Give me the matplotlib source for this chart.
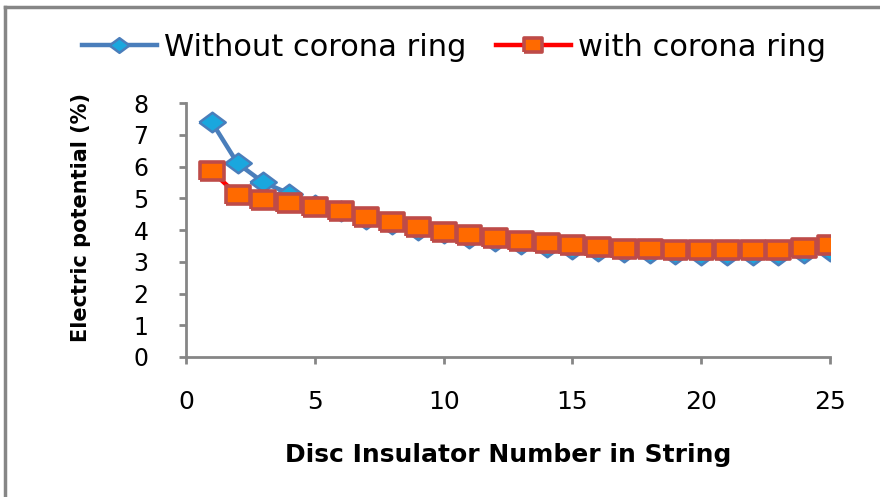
#!/usr/bin/env python3
"""Electric potential distribution along a disc insulator string."""

import numpy as np
import matplotlib.pyplot as plt
from matplotlib.lines import Line2D

disc_number = list(range(1, 26))
without_ring = [7.40, 6.10, 5.50, 5.15, 4.80, 4.60, 4.35, 4.20, 4.00, 3.90,
                3.75, 3.65, 3.55, 3.45, 3.40, 3.35, 3.30, 3.28, 3.25, 3.22,
                3.22, 3.20, 3.22, 3.28, 3.35]
with_ring = [5.85, 5.10, 4.95, 4.85, 4.72, 4.60, 4.40, 4.25, 4.10, 3.95,
             3.85, 3.75, 3.65, 3.58, 3.52, 3.45, 3.40, 3.40, 3.36, 3.36,
             3.36, 3.36, 3.38, 3.42, 3.52]
x_ticks = [0, 5, 10, 15, 20, 25]
y_ticks = [0, 1, 2, 3, 4, 5, 6, 7, 8]

plt.rcParams["font.family"] = ["DejaVu Sans"]

GRAY = "#868686"
BLUE_LINE = "#4A7EBB"
BLUE_FACE = "#1AA7DE"
RED_LINE = "#FF0000"
RED_EDGE = "#BE4B48"
RED_FACE = "#FF6A00"

# wide markers, the chart is drawn slightly stretched horizontally
diamond = np.array([[-1.35, 0.0], [0.0, 1.0], [1.35, 0.0], [0.0, -1.0], [-1.35, 0.0]])
rect = np.array([[-1.3, -1.0], [1.3, -1.0], [1.3, 1.0], [-1.3, 1.0], [-1.3, -1.0]])

fig = plt.figure(figsize=(8.8, 4.97), dpi=100)
ax = fig.add_axes([0.2114, 0.2817, 0.7318, 0.511])

ax.plot(disc_number, without_ring, color=BLUE_LINE, lw=3.2,
        marker=diamond, ms=19, mfc=BLUE_FACE, mec=BLUE_LINE, mew=1.8,
        label="Without corona ring", zorder=3)
ax.plot(disc_number, with_ring, color=RED_LINE, lw=3.2,
        marker=rect, ms=17, mfc=RED_FACE, mec=RED_EDGE, mew=2.6,
        label="with corona ring", zorder=4)

ax.set_xlim(0, 25)
ax.set_ylim(0, 8)
ax.set_xticks(x_ticks)
ax.set_yticks(y_ticks)
for side in ("top", "right"):
    ax.spines[side].set_visible(False)
for side in ("left", "bottom"):
    ax.spines[side].set_color(GRAY)
    ax.spines[side].set_linewidth(2)
ax.tick_params(axis="both", direction="out", length=5, width=2, color=GRAY,
               labelcolor="black")
ax.tick_params(axis="x", pad=19, labelsize=18)
ax.tick_params(axis="y", pad=22, labelsize=17)

ax.set_xlabel("Disc Insulator Number in String", fontsize=18, fontweight="bold")
ax.set_ylabel("Electric potential (%)", fontsize=15, fontweight="bold")
ax.xaxis.set_label_coords(0.5, -0.339)
ax.yaxis.set_label_coords(-0.1475, 0.55)

ax.legend(loc="center", bbox_to_anchor=(0.516, 0.905), bbox_transform=fig.transFigure,
          ncol=2, frameon=False, fontsize=22, handlelength=2.45,
          handletextpad=0.25, columnspacing=0.95, markerscale=0.75)

# outer frame: left and top edges
fig.add_artist(Line2D([0.006, 0.006], [0.0, 0.986], color=GRAY, lw=2.5,
                      transform=fig.transFigure))
fig.add_artist(Line2D([0.006, 1.0], [0.986, 0.986], color=GRAY, lw=2.5,
                      transform=fig.transFigure))

fig.savefig("out.png", dpi=100)
plt.close(fig)
